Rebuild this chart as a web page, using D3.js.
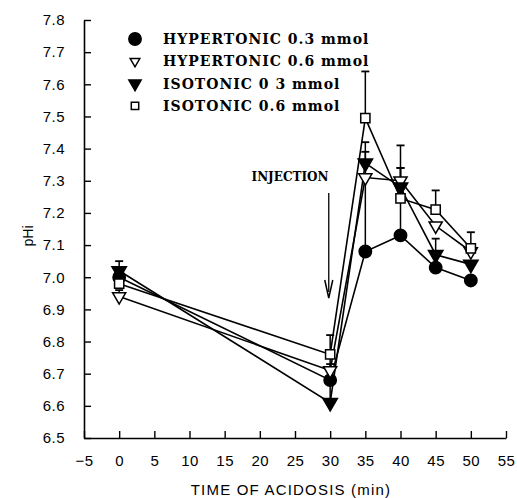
<!DOCTYPE html>
<html>
<head>
<meta charset="utf-8">
<script src="https://cdn.jsdelivr.net/npm/d3@7"></script>
<style>
  body { margin: 0; background: #fff; }
  svg { display: block; }
  .tick text { font-family: "Liberation Sans", Arial, sans-serif; font-size: 15px; letter-spacing: 0.5px; }
</style>
</head>
<body>
<div id="viz"></div>
<script>
// time of acidosis (min)
const times = [0, 30, 35, 40, 45, 50];

const seriesNames = ['HYPERTONIC 0.3 mmol', 'HYPERTONIC 0.6 mmol', 'ISOTONIC 0 3 mmol', 'ISOTONIC 0.6 mmol'];

// mean pHi per series
const hyper03 = [7.00, 6.68, 7.08, 7.13, 7.03, 6.99];
const hyper06 = [6.94, 6.71, 7.31, 7.30, 7.16, 7.08];
const iso03 = [7.02, 6.61, 7.355, 7.28, 7.07, 7.04];
const iso06 = [6.98, 6.76, 7.495, 7.245, 7.21, 7.09];

// upward error bars (SE), 0 = none drawn
const hyper03Err = [0.03, 0.05, 0.24, 0.11, 0, 0];
const hyper06Err = [0.02, 0.04, 0.08, 0.04, 0, 0];
const iso03Err = [0.03, 0.06, 0.065, 0.06, 0.05, 0];
const iso06Err = [0.045, 0.06, 0.145, 0.165, 0.06, 0.05];

const yTicks = [6.5, 6.6, 6.7, 6.8, 6.9, 7.0, 7.1, 7.2, 7.3, 7.4, 7.5, 7.6, 7.7, 7.8];
const xTicks = [-5, 0, 5, 10, 15, 20, 25, 30, 35, 40, 45, 50, 55];

const svg = d3.select('#viz')
    .append('svg')
    .attr('width', 517)
    .attr('height', 498);

const x = d3.scaleLinear().domain([-5, 55]).range([84, 506]);
const y = d3.scaleLinear().domain([6.5, 7.8]).range([438, 20]);

const series = [
    {name: seriesNames[0], vals: hyper03, err: hyper03Err, sym: d3.symbolCircle, size: 120, legSize: 120, fill: '#000', rot: 0},
    {name: seriesNames[1], vals: hyper06, err: hyper06Err, sym: d3.symbolTriangle, size: 75, legSize: 40, fill: '#fff', rot: 180},
    {name: seriesNames[2], vals: iso03, err: iso03Err, sym: d3.symbolTriangle, size: 90, legSize: 65, fill: '#000', rot: 180},
    {name: seriesNames[3], vals: iso06, err: iso06Err, sym: d3.symbolSquare, size: 85, legSize: 55, fill: '#fff', rot: 0}
];

// axes, ticks pointing inward
const xAxis = d3.axisBottom(x).tickValues(xTicks).tickSizeInner(-7).tickSizeOuter(0)
    .tickPadding(17).tickFormat(d => d < 0 ? '\u2212' + Math.abs(d) : d);
const yAxis = d3.axisLeft(y).tickValues(yTicks).tickSizeInner(-7).tickSizeOuter(0)
    .tickPadding(19).tickFormat(d3.format('.1f'));

const xg = svg.append('g').attr('transform', 'translate(0,' + y(6.5) + ')').call(xAxis);
const yg = svg.append('g').attr('transform', 'translate(' + x(-5) + ',0)').call(yAxis);
[xg, yg].forEach(g => {
    g.select('.domain').attr('stroke-width', 1.6);
    g.selectAll('.tick line').attr('stroke-width', 1.4);
});

svg.append('text')
    .attr('x', 291).attr('y', 495)
    .attr('text-anchor', 'middle')
    .style('font-family', '"Liberation Sans", Arial, sans-serif')
    .style('font-size', '15px')
    .style('letter-spacing', '1.2px')
    .text('TIME OF ACIDOSIS (min)');

svg.append('text')
    .attr('transform', 'translate(33,' + 236 + ') rotate(-90)')
    .attr('text-anchor', 'middle')
    .style('font-family', '"Liberation Sans", Arial, sans-serif')
    .style('font-size', '14px')
    .text('pHi');

// injection marker
svg.append('text')
    .attr('x', 290).attr('y', 181)
    .attr('text-anchor', 'middle')
    .style('font-family', '"DejaVu Serif", serif')
    .style('font-weight', 'bold')
    .style('font-size', '12px')
    .text('INJECTION');
svg.append('line')
    .attr('x1', x(29.8)).attr('x2', x(29.8))
    .attr('y1', 193).attr('y2', 292)
    .attr('stroke', '#000').attr('stroke-width', 1.3);
svg.append('path')
    .attr('d', d3.line()([[x(29.8) - 4, 280], [x(29.8), 298], [x(29.8) + 4, 280]]))
    .attr('fill', 'none').attr('stroke', '#000').attr('stroke-width', 1.5);

const line = d3.line()
    .x((d, i) => x(times[i]))
    .y(d => y(d));

const plot = svg.append('g');

series.forEach(s => {
    // error bars
    s.vals.forEach((v, i) => {
        if (!s.err[i]) return;
        const cx = x(times[i]), top = y(v + s.err[i]);
        plot.append('line').attr('x1', cx).attr('x2', cx)
            .attr('y1', y(v)).attr('y2', top)
            .attr('stroke', '#000').attr('stroke-width', 1.5);
        plot.append('line').attr('x1', cx - 4).attr('x2', cx + 4)
            .attr('y1', top).attr('y2', top)
            .attr('stroke', '#000').attr('stroke-width', 1.8);
    });
    plot.append('path')
        .datum(s.vals)
        .attr('d', line)
        .attr('fill', 'none')
        .attr('stroke', '#000')
        .attr('stroke-width', 1.6);
});

series.forEach(s => {
    plot.selectAll(null)
        .data(s.vals)
        .enter().append('path')
        .attr('d', d3.symbol().type(s.sym).size(s.size))
        .attr('transform', (d, i) => 'translate(' + x(times[i]) + ',' + y(d) + ') rotate(' + s.rot + ')')
        .attr('fill', s.fill)
        .attr('stroke', '#000')
        .attr('stroke-width', 1.5);
});

// legend
const legend = svg.append('g');
series.forEach((s, i) => {
    const ly = 39 + i * 22.3;
    legend.append('path')
        .attr('d', d3.symbol().type(s.sym).size(s.legSize))
        .attr('transform', 'translate(135,' + ly + ') rotate(' + s.rot + ')')
        .attr('fill', s.fill)
        .attr('stroke', '#000')
        .attr('stroke-width', 1.5);
    legend.append('text')
        .attr('x', 163).attr('y', ly + 5)
        .style('font-family', '"DejaVu Serif", serif')
        .style('font-weight', 'bold')
        .style('font-size', '14px')
        .style('letter-spacing', '1px')
        .text(s.name);
});
</script>
</body>
</html>
